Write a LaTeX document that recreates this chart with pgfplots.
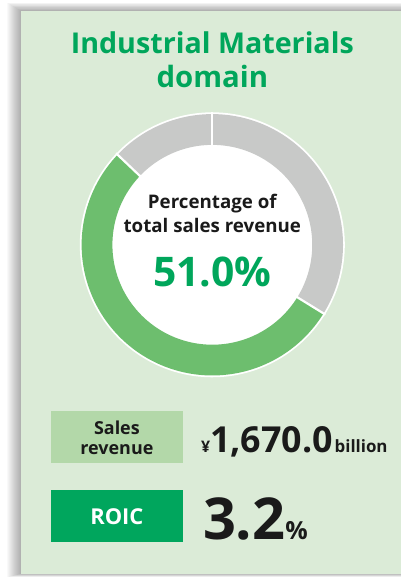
\documentclass[border=0pt]{standalone}
\usepackage{pgfplots}
\pgfplotsset{compat=1.18}
\usepackage{pgfplotstable}
\usepackage{fontspec}
\setmainfont{Open Sans}
\definecolor{panel}{HTML}{DBEBD7}
\definecolor{ringgreen}{HTML}{6DBE6E}
\definecolor{ringgray}{HTML}{C8C9C8}
\definecolor{titlegreen}{HTML}{00A65B}
\definecolor{salesbox}{HTML}{B3D8A9}
\definecolor{roicbox}{HTML}{00A65D}
\definecolor{ink}{HTML}{1A1A1A}
\pgfplotstableread{
segment share
other1 33.8
industrial 53.3
other2 12.9
}\ringdata
\pgfplotstablegetelem{0}{share}\of\ringdata \let\sA\pgfplotsretval
\pgfplotstablegetelem{1}{share}\of\ringdata \let\sB\pgfplotsretval
\pgfplotstablegetelem{2}{share}\of\ringdata \let\sC\pgfplotsretval
\pgfmathsetmacro\aA{-90}
\pgfmathsetmacro\aB{\aA+3.6*\sA}
\pgfmathsetmacro\aC{\aB+3.6*\sB}
\pgfmathsetmacro\aD{\aC+3.6*\sC}
\begin{document}
\begin{tikzpicture}
\begin{axis}[scale only axis, width=401bp, height=577bp,
  xmin=0, xmax=401, ymin=0, ymax=577, y dir=reverse,
  hide axis, clip=false]
% background and shadow
\fill[white] (axis cs:0,0) rectangle (axis cs:401,577);
\pgfplotsinvokeforeach{1,...,14}{
  \fill[black, opacity=0.022] (axis cs:21-#1,11-0.6*#1) rectangle (axis cs:401,574+0.25*#1);
}
\fill[panel] (axis cs:21,11) rectangle (axis cs:401,574);
% donut
\addplot[fill=white, draw=none, domain=0:360, samples=180]
  ({212.5+132.6*cos(x)},{245+132.6*sin(x)}) -- cycle;
\addplot[draw=ringgray, line width=30.8bp, domain=\aA:\aB, samples=120]
  ({212.5+115.4*cos(x)},{245+115.4*sin(x)});
\addplot[draw=ringgreen, line width=30.8bp, domain=\aB:\aC, samples=160]
  ({212.5+115.4*cos(x)},{245+115.4*sin(x)});
\addplot[draw=ringgray, line width=30.8bp, domain=\aC:\aD, samples=60]
  ({212.5+115.4*cos(x)},{245+115.4*sin(x)});
\addplot[white, line width=2.2bp, domain=98:133, samples=2] ({212.5+x*cos(\aA)},{245+x*sin(\aA)});
\addplot[white, line width=2.2bp, domain=98:133, samples=2] ({212.5+x*cos(\aB)},{245+x*sin(\aB)});
\addplot[white, line width=2.2bp, domain=98:133, samples=2] ({212.5+x*cos(\aC)},{245+x*sin(\aC)});
% title
\node[anchor=base, text=titlegreen, font=\bfseries\fontsize{28.8}{28.8}\selectfont] at (axis cs:212.5,54) {Industrial Materials};
\node[anchor=base, text=titlegreen, font=\bfseries\fontsize{29.5}{29.5}\selectfont] at (axis cs:212.5,88) {domain};
% center text
\node[anchor=base, text=ink, font=\bfseries\fontsize{18.8}{18.8}\selectfont] at (axis cs:212.5,209) {Percentage of};
\node[anchor=base, text=ink, font=\bfseries\fontsize{18.8}{18.8}\selectfont] at (axis cs:212.5,233) {total sales revenue};
\node[anchor=base, text=titlegreen, font=\bfseries\fontsize{41}{41}\selectfont] at (axis cs:212.5,287) {51.0\%};
% boxes
\fill[salesbox] (axis cs:51,411) rectangle (axis cs:183,463.5);
\fill[roicbox] (axis cs:51,490) rectangle (axis cs:183,542.5);
\node[anchor=base, text=ink, font=\bfseries\fontsize{18}{18}\selectfont] at (axis cs:117,435) {Sales};
\node[anchor=base, text=ink, font=\bfseries\fontsize{18}{18}\selectfont] at (axis cs:117,455) {revenue};
\node[anchor=base, text=white, font=\bfseries\fontsize{22}{22}\selectfont] at (axis cs:117,525) {ROIC};
\node[anchor=base west, inner sep=0pt, text=ink, font=\bfseries] at (axis cs:201,452.7)
  {{\fontsize{16}{16}\selectfont ¥}{\fontsize{36}{36}\selectfont 1,670.0}\,{\fontsize{17}{17}\selectfont billion}};
\node[anchor=base west, inner sep=0pt, text=ink, font=\bfseries] at (axis cs:203,540)
  {{\fontsize{58}{58}\selectfont 3.2}{\fontsize{25}{25}\selectfont \%}};
\end{axis}
\end{tikzpicture}
\end{document}
